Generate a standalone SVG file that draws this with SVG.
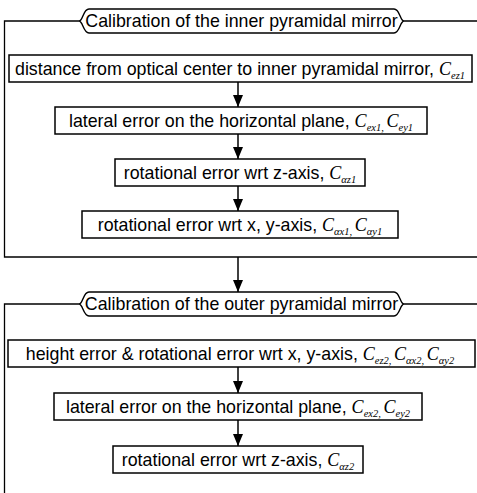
<svg xmlns="http://www.w3.org/2000/svg" width="477" height="493" viewBox="0 0 477 493">
  <defs>
    <style>
      .frame { fill: none; stroke: #000; stroke-width: 1.3; }
      .box { fill: #fff; stroke: #000; stroke-width: 1.5; }
      .tag { fill: #fff; stroke: #000; stroke-width: 1.4; }
      .lbl { font-family: "Liberation Sans", Arial, sans-serif; font-size: 17.8px; fill: #000; }
      .c { font-family: "Liberation Serif", "Times New Roman", serif; font-style: italic; font-size: 18px; }
      .s { font-family: "Liberation Serif", "Times New Roman", serif; font-style: italic; font-size: 10.5px; }
      .flow { fill: none; stroke: #000; stroke-width: 1.5; }
    </style>
    <marker id="head" viewBox="0 0 12 10" refX="12" refY="5" markerWidth="12" markerHeight="10" markerUnits="userSpaceOnUse" orient="auto">
      <path d="M0,0 L12,5 L0,10 Z" fill="#000"/>
    </marker>
  </defs>

  <!-- stage 1 frame -->
  <g id="frame-inner">
    <path class="frame" d="M79,21 H4.5 V257 H477 M404,21 H477"/>
    <path class="tag" d="M79,21 C83,21 83,9 89,9 H394 C400,9 400,21 404,21 C400,21 400,33 394,33 H89 C83,33 83,21 79,21 Z"/>
    <text class="lbl" x="241.5" y="27.3" text-anchor="middle">Calibration of the inner pyramidal mirror</text>
  </g>

  <g id="step-distance">
    <rect class="box" x="9" y="55" width="463" height="27"/>
    <text class="lbl" x="240" y="74.8" text-anchor="middle">distance from optical center to inner pyramidal mirror,  <tspan class="c">C</tspan><tspan class="s" dy="4">ez1</tspan></text>
  </g>

  <g id="step-lateral-1">
    <rect class="box" x="55" y="107" width="372" height="27"/>
    <text class="lbl" x="241" y="126.8" text-anchor="middle">lateral error on the horizontal plane,  <tspan class="c">C</tspan><tspan class="s" dy="4">ex1</tspan><tspan class="s">, </tspan><tspan class="c" dy="-4"> C</tspan><tspan class="s" dy="4">ey1</tspan></text>
  </g>

  <g id="step-rot-z-1">
    <rect class="box" x="115" y="159" width="250" height="27"/>
    <text class="lbl" x="240" y="178.8" text-anchor="middle">rotational error wrt z-axis,  <tspan class="c">C</tspan><tspan class="s" dy="4">αz1</tspan></text>
  </g>

  <g id="step-rot-xy-1">
    <rect class="box" x="82" y="211" width="316" height="27"/>
    <text class="lbl" x="240" y="230.8" text-anchor="middle">rotational error wrt x, y-axis,  <tspan class="c">C</tspan><tspan class="s" dy="4">αx1</tspan><tspan class="s">, </tspan><tspan class="c" dy="-4"> C</tspan><tspan class="s" dy="4">αy1</tspan></text>
  </g>

  <!-- stage 2 frame -->
  <g id="frame-outer">
    <path class="frame" d="M79,304 H4.5 V493 M404,304 H477"/>
    <path class="tag" d="M79,304 C83,304 83,292 89,292 H394 C400,292 400,304 404,304 C400,304 400,316 394,316 H89 C83,316 83,304 79,304 Z"/>
    <text class="lbl" x="241.5" y="310.3" text-anchor="middle">Calibration of the outer pyramidal mirror</text>
  </g>

  <g id="step-height-2">
    <rect class="box" x="8" y="340" width="467" height="27"/>
    <text class="lbl" x="240" y="359.8" text-anchor="middle">height error &amp; rotational error wrt x, y-axis,  <tspan class="c">C</tspan><tspan class="s" dy="4">ez2</tspan><tspan class="s">, </tspan><tspan class="c" dy="-4">C</tspan><tspan class="s" dy="4">αx2</tspan><tspan class="s">, </tspan><tspan class="c" dy="-4">C</tspan><tspan class="s" dy="4">αy2</tspan></text>
  </g>

  <g id="step-lateral-2">
    <rect class="box" x="54" y="393" width="368" height="27"/>
    <text class="lbl" x="238" y="412.8" text-anchor="middle">lateral error on the horizontal plane,  <tspan class="c">C</tspan><tspan class="s" dy="4">ex2</tspan><tspan class="s">, </tspan><tspan class="c" dy="-4"> C</tspan><tspan class="s" dy="4">ey2</tspan></text>
  </g>

  <g id="step-rot-z-2">
    <rect class="box" x="113" y="446" width="250" height="27"/>
    <text class="lbl" x="238" y="465.8" text-anchor="middle">rotational error wrt z-axis,  <tspan class="c">C</tspan><tspan class="s" dy="4">αz2</tspan></text>
  </g>

  <!-- connectors -->
  <g id="connectors">
    <line class="flow" x1="238" y1="82" x2="238" y2="107" marker-end="url(#head)"/>
    <line class="flow" x1="238" y1="134" x2="238" y2="159" marker-end="url(#head)"/>
    <line class="flow" x1="238" y1="186" x2="238" y2="211" marker-end="url(#head)"/>
    <line class="flow" x1="238" y1="257" x2="238" y2="292" marker-end="url(#head)"/>
    <line class="flow" x1="238" y1="367" x2="238" y2="393" marker-end="url(#head)"/>
    <line class="flow" x1="238" y1="420" x2="238" y2="446" marker-end="url(#head)"/>
  </g>
</svg>
